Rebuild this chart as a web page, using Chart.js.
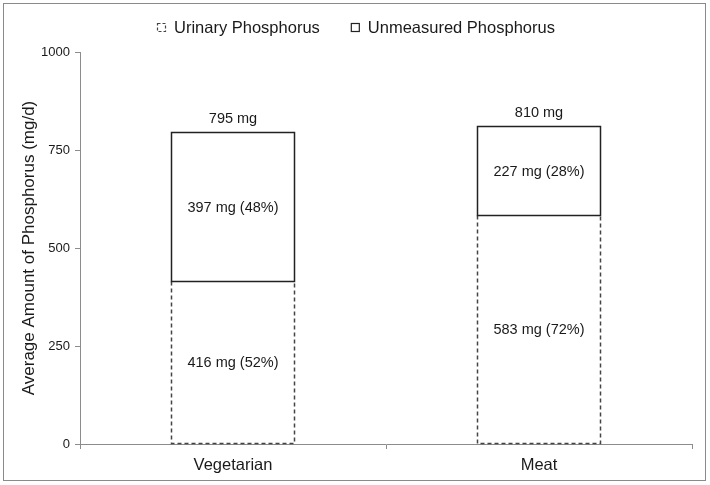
<!DOCTYPE html>
<html>
<head>
<meta charset="utf-8">
<script src="https://cdn.jsdelivr.net/npm/chart.js@4.4.0/dist/chart.umd.min.js"></script>
<style>
html, body { margin: 0; padding: 0; background: #fff; }
</style>
</head>
<body>
<canvas id="chart" width="710" height="485"></canvas>
<script>
const categories = ["Vegetarian", "Meat"];
const seriesNames = ["Urinary Phosphorus", "Unmeasured Phosphorus"];
const urinary = [416, 583];
const unmeasured = [379, 227];
const urinaryLabels = ["416 mg (52%)", "583 mg (72%)"];
const unmeasuredLabels = ["397 mg (48%)", "227 mg (28%)"];
const totalLabels = ["795 mg", "810 mg"];
const yTicks = [0, 250, 500, 750, 1000];

const FONT = "'Liberation Sans', Arial, sans-serif";
const AXIS_GREY = "#8c8c8c";
const TEXT = "#1a1a1a";

// dash pattern per series, used for both bars and legend boxes
const seriesDash = [[4, 3], []];
const seriesStroke = ["#444", "#222"];

// outer frame around the whole picture
const framePlugin = {
    id: "frame",
    afterDraw(chart) {
        const ctx = chart.ctx;
        ctx.save();
        ctx.strokeStyle = "#8a8a8a";
        ctx.lineWidth = 1;
        ctx.strokeRect(3.5, 3.5, 702, 477);
        ctx.restore();
    }
};

// bar borders (chart.js bars cannot draw dashed borders on their own)
const outlinePlugin = {
    id: "outlines",
    afterDatasetsDraw(chart) {
        const ctx = chart.ctx;
        const snap = v => Math.round(v) + 0.5;
        ctx.save();
        ctx.lineWidth = 1.5;
        chart.data.datasets.forEach((ds, i) => {
            const meta = chart.getDatasetMeta(i);
            ctx.setLineDash(seriesDash[i]);
            ctx.strokeStyle = seriesStroke[i];
            meta.data.forEach(bar => {
                const left = snap(bar.x - bar.width / 2);
                const right = snap(bar.x + bar.width / 2) - 1;
                const top = snap(Math.min(bar.y, bar.base));
                const bottom = snap(Math.max(bar.y, bar.base)) - 1;
                ctx.beginPath();
                if (i === 0) {
                    // top edge is covered by the solid segment above
                    ctx.moveTo(left, top);
                    ctx.lineTo(left, bottom);
                    ctx.lineTo(right, bottom);
                    ctx.lineTo(right, top);
                } else {
                    ctx.rect(left, top, right - left, bottom + 1 - top);
                }
                ctx.stroke();
            });
        });
        ctx.restore();
    }
};

// segment values and stack totals
const labelPlugin = {
    id: "valueLabels",
    afterDatasetsDraw(chart) {
        const ctx = chart.ctx;
        const texts = [urinaryLabels, unmeasuredLabels];
        ctx.save();
        ctx.fillStyle = TEXT;
        ctx.font = "14.5px " + FONT;
        ctx.textAlign = "center";
        ctx.textBaseline = "middle";
        chart.data.datasets.forEach((ds, i) => {
            chart.getDatasetMeta(i).data.forEach((bar, j) => {
                ctx.fillText(texts[i][j], bar.x, (bar.y + bar.base) / 2 + 1);
            });
        });
        const topMeta = chart.getDatasetMeta(chart.data.datasets.length - 1);
        topMeta.data.forEach((bar, j) => {
            ctx.fillText(totalLabels[j], bar.x, bar.y - 13);
        });
        ctx.restore();
    }
};

// legend drawn by hand to get the wide gap between the two entries
const legendPlugin = {
    id: "customLegend",
    afterDraw(chart) {
        const ctx = chart.ctx;
        const box = 8;
        const boxGap = 9;
        const itemGap = 31;
        const y = 27;
        ctx.save();
        ctx.font = "16.5px " + FONT;
        const widths = seriesNames.map(n => ctx.measureText(n).width);
        let total = 0;
        widths.forEach((w, i) => {
            total += box + boxGap + w + (i < widths.length - 1 ? itemGap : 0);
        });
        let x = Math.round(356 - total / 2);
        seriesNames.forEach((name, i) => {
            ctx.setLineDash(seriesDash[i].length ? [3, 2] : []);
            ctx.strokeStyle = seriesStroke[i];
            ctx.lineWidth = 1.2;
            ctx.strokeRect(x + 0.5, y - box / 2 + 0.5, box, box);
            ctx.setLineDash([]);
            ctx.fillStyle = TEXT;
            ctx.textAlign = "left";
            ctx.textBaseline = "middle";
            ctx.fillText(name, x + box + boxGap, y + 1);
            x += box + boxGap + widths[i] + itemGap;
        });
        ctx.restore();
    }
};

new Chart(document.getElementById("chart"), {
    type: "bar",
    data: {
        labels: categories,
        datasets: [
            {
                label: seriesNames[0],
                data: urinary,
                backgroundColor: "#ffffff",
                borderWidth: 0,
                barPercentage: 0.402,
                categoryPercentage: 1
            },
            {
                label: seriesNames[1],
                data: unmeasured,
                backgroundColor: "#ffffff",
                borderWidth: 0,
                barPercentage: 0.402,
                categoryPercentage: 1
            }
        ]
    },
    options: {
        responsive: false,
        animation: false,
        devicePixelRatio: 1,
        layout: {
            padding: { left: 0, top: 52, right: 18, bottom: 0 }
        },
        plugins: {
            legend: { display: false },
            tooltip: { enabled: false }
        },
        scales: {
            x: {
                stacked: true,
                offset: true,
                border: { color: AXIS_GREY, width: 1 },
                grid: {
                    offset: true,
                    drawOnChartArea: false,
                    drawTicks: true,
                    tickLength: 5,
                    color: AXIS_GREY
                },
                ticks: {
                    color: TEXT,
                    padding: 7,
                    font: { family: FONT, size: 16.5 }
                },
                afterFit(scale) {
                    scale.height = 41;
                }
            },
            y: {
                stacked: true,
                min: 0,
                max: 1000,
                border: { color: AXIS_GREY, width: 1 },
                grid: {
                    drawOnChartArea: false,
                    drawTicks: true,
                    tickLength: 5,
                    color: AXIS_GREY
                },
                ticks: {
                    color: TEXT,
                    padding: 5,
                    font: { family: FONT, size: 13 },
                    callback: v => String(v)
                },
                afterBuildTicks(scale) {
                    scale.ticks = yTicks.map(v => ({ value: v }));
                },
                title: {
                    display: true,
                    text: "Average Amount of Phosphorus (mg/d)",
                    color: TEXT,
                    padding: { top: 19, bottom: 0 },
                    font: { family: FONT, size: 17 }
                },
                afterFit(scale) {
                    scale.width = 80;
                }
            }
        }
    },
    plugins: [framePlugin, outlinePlugin, labelPlugin, legendPlugin]
});
</script>
</body>
</html>
